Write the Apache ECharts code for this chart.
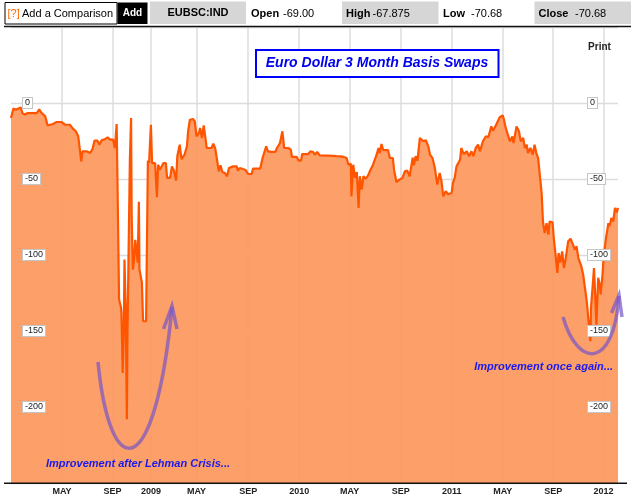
<!DOCTYPE html>
<html><head><meta charset="utf-8">
<script src="https://cdn.jsdelivr.net/npm/echarts@6/dist/echarts.min.js"></script>
<style>html,body{margin:0;padding:0;background:#fff}#c{width:631px;height:501px}</style>
</head><body><div id="c"></div>
<script>
// trading-session index (x) and basis swap level in bp (y)
const sessions = [0,4,8,12,16,19,23,27,34,43,47,51,57,61,65,70,76,84,90,98,103,108,112,115,117,119,126,132,136,139,144,147,151,157,161,165,170,173,176,
179,180,183,184,186,188,189,191,193,194,196,198,200,201,203,205,207,209,211,213,214,216,218,220,225,228,230,233,235,240,243,245,248,254,258,260,265,268,271,275,277,281,284,289,293,295,298,303,306,309,313,315,318,321,326,334,337,340,344,346,349,352,356,360,363,370,376,378,381,390,395,401,403,415,419,425,428,434,440,443,448,452,455,462,466,468,476,479,483,485,495,499,503,506,510,514,528,542,553,559,562,566,567,570,573,576,579,581,584,587,591,595,598,603,606,609,612,614,617,620,628,631,636,638,642,647,652,656,660,664,669,671,674,677,681,687,691,695,698,702,706,710,714,717,720,724,728,734,736,739,742,748,750,754,759,763,767,770,774,778,781,786,791,795,800,803,808,811,814,819,821,824,827,831,835,837,842,846,849,853,856,859,861,865,869,872,875,878,881,884,886,889,892,895,897,902,904,907,910,912,915,918,921,924,928,932,936,939,942,945,947,950,953,956,959,961,963,965,966,969,971,973,975,978,981,982,985,987,991,995,997,1000,1003,1006,1009,1011];
const values = [-9.9,-3.7,-4.4,-3.7,-2.9,-6.6,-7.7,-6.6,-6.6,-6.6,-4.2,-6.6,-8.8,-14.7,-14.3,-13.8,-12.5,-12.5,-14.3,-14.3,-16.9,-18.6,-21.9,-23,-38.4,-31.8,-31.8,-32.9,-30,-24.8,-24.8,-27.4,-24.6,-23.7,-22.6,-24.1,-24.1,-29.6,-13.8,
-98.7,-129.4,-134,-138,-177.6,-147,-103,-134,-208,-151,-94,-37,-9.9,-74.6,-109.6,-103,-90,-90,-105,-65,-109.6,-110.7,-118,-143.6,-143.6,-38,-39.5,-14.3,-39.5,-39.5,-62,-40.6,-43.9,-39.5,-39.5,-49.3,-49.3,-41.7,-44,-51,-35,-27.4,-37,-34,-28.5,-18.6,-11,-10.5,-12,-22,-19.7,-16.4,-23,-14.7,-29.6,-29.6,-26.8,-29.6,-39.5,-45,-41,-45.4,-46,-48.2,-42.8,-41.7,-41.7,-44.5,-42.8,-43.9,-46.7,-46.7,-43.2,-43.2,-36.2,-28.5,-31.8,-32.2,-32.2,-29.6,-26.3,-18.6,-29.6,-29.6,-30.7,-35.5,-35.5,-37.9,-37.9,-33.6,-33.6,-31.8,-32.2,-34,-32.2,-34.4,-34.6,-35,-35.3,-36.2,-40.6,-40,-61.4,-40.6,-49.3,-45.4,-69,-48.2,-57,-48.2,-49.8,-47.5,-44.5,-40.6,-39.5,-34,-29.6,-33,-27,-31,-31,-36.2,-36.2,-43.9,-52,-50.4,-49.3,-45,-44.5,-48.2,-36,-41,-35,-38,-23,-25.2,-24.5,-28.5,-34,-36.2,-42.8,-53.7,-46,-51.5,-61.4,-58,-60,-59,-52.6,-49.3,-41.7,-37.3,-29.6,-33.6,-31.8,-35,-31.8,-35,-29.6,-27.4,-31.8,-25.2,-21.9,-22.5,-15.4,-18.2,-14.3,-14,-9.4,-8.1,-10.9,-16.4,-15.3,-25.2,-22,-26.3,-15.4,-18.6,-25.2,-23,-29.6,-27.4,-32.9,-29.6,-34,-27.4,-32.9,-36.2,-48.2,-60.3,-78,-85.5,-79,-86.6,-78,-78.5,-88.8,-99.8,-111.8,-98.7,-105,-97.6,-108.6,-102,-91,-89.3,-93.2,-96.5,-94.3,-102,-100.9,-107.5,-113,-121.7,-130.5,-139.3,-148,-156.8,-134.9,-119.5,-108.6,-126,-145.8,-115,-120.6,-126,-114,-102,-88.8,-79,-81,-75.7,-78,-69,-72,-69];
const tickSessions = [85,169,233,309,395,480,564,649,734,819,903,987];
const tickLabels = ['MAY','SEP','2009','MAY','SEP','2010','MAY','SEP','2011','MAY','SEP','2012'];

const chart = echarts.init(document.getElementById('c'));
const data = sessions.map((s, i) => [s, values[i]]);
const labelOf = {};
tickSessions.forEach((s, i) => { labelOf[s] = tickLabels[i]; });
const FF = '"Liberation Sans", Arial, Helvetica, sans-serif';
const yLabel = {
  show: true, inside: true, showMinLabel: false, showMaxLabel: false,
  fontSize: 9, color: '#222', fontFamily: FF,
  backgroundColor: '#fff', borderColor: '#c6c6c6', borderWidth: 1, padding: [1, 2, 0, 2]
};
const arrowColor = 'rgba(120,85,200,0.7)';
function txt(x, y, text, opt) {
  return { type: 'text', x: x, y: y, z: 100,
    style: Object.assign({ text: text, fill: '#000', fontSize: 11, fontFamily: FF, verticalAlign: 'middle', align: 'left' }, opt || {}) };
}
const graphic = [
  { type: 'rect', z: 100, shape: { x: 5, y: 2.5, width: 112, height: 21.5 }, style: { fill: '#fff', stroke: '#000', lineWidth: 1 } },
  txt(7.5, 13.5, '[?]', { fill: '#ff6a00' }),
  txt(22, 13.5, 'Add a Comparison'),
  { type: 'rect', z: 100, shape: { x: 117.5, y: 2.5, width: 30, height: 21.5 }, style: { fill: '#000' } },
  txt(132.5, 13.5, 'Add', { fill: '#fff', fontWeight: 'bold', fontSize: 10, align: 'center' }),
  { type: 'rect', z: 100, shape: { x: 150, y: 1.5, width: 96, height: 22.5 }, style: { fill: '#d6d6d6' } },
  txt(198, 13, 'EUBSC:IND', { fontWeight: 'bold', align: 'center' }),
  txt(251, 13.5, 'Open', { fontWeight: 'bold' }),
  txt(283, 13.5, '-69.00'),
  { type: 'rect', z: 100, shape: { x: 342, y: 1.5, width: 96.5, height: 22.5 }, style: { fill: '#d6d6d6' } },
  txt(346, 13.5, 'High', { fontWeight: 'bold' }),
  txt(372.5, 13.5, '-67.875'),
  txt(443, 13.5, 'Low', { fontWeight: 'bold' }),
  txt(471, 13.5, '-70.68'),
  { type: 'rect', z: 100, shape: { x: 534.5, y: 1.5, width: 97, height: 22.5 }, style: { fill: '#d6d6d6' } },
  txt(538.5, 13.5, 'Close', { fontWeight: 'bold' }),
  txt(575, 13.5, '-70.68'),
  { type: 'line', z: 100, shape: { x1: 4, y1: 26.5, x2: 631, y2: 26.5 }, style: { stroke: '#111', lineWidth: 1.5 } },
  { type: 'line', z: 100, shape: { x1: 4, y1: 483.3, x2: 627, y2: 483.3 }, style: { stroke: '#111', lineWidth: 1.5 } },
  txt(599.5, 47, 'Print', { fontWeight: 'bold', fontSize: 10, align: 'center', fill: '#222' }),
  { type: 'rect', z: 100, shape: { x: 256, y: 50, width: 242.5, height: 27 }, style: { fill: '#fff', stroke: '#0000ff', lineWidth: 2 } },
  txt(377, 63.5, 'Euro Dollar 3 Month Basis Swaps', { fontWeight: 'bold', fontStyle: 'italic', fontSize: 14, fill: '#0000ee', align: 'center' }),
  txt(46, 463.5, 'Improvement after Lehman Crisis...', { fontWeight: 'bold', fontStyle: 'italic', fontSize: 11, fill: '#1a1aee' }),
  txt(613, 367, 'Improvement once again...', { fontWeight: 'bold', fontStyle: 'italic', fontSize: 11, fill: '#1a1aee', align: 'right' }),
  { type: 'bezierCurve', z: 90, shape: { x1: 98, y1: 362, cpx1: 110, cpy1: 485, cpx2: 155, cpy2: 485, x2: 172, y2: 307 }, style: { stroke: arrowColor, lineWidth: 3.5, fill: null } },
  { type: 'polyline', z: 90, shape: { points: [[163.5, 329], [172, 306], [177, 329]] }, style: { stroke: arrowColor, lineWidth: 3.5, fill: null } },
  { type: 'bezierCurve', z: 90, shape: { x1: 563, y1: 317, cpx1: 578, cpy1: 369, cpx2: 614, cpy2: 369, x2: 619, y2: 296 }, style: { stroke: arrowColor, lineWidth: 3.5, fill: null } },
  { type: 'polyline', z: 90, shape: { points: [[611.5, 313], [619, 295], [622, 317]] }, style: { stroke: arrowColor, lineWidth: 3.5, fill: null } }
];

const yBase = { type: 'value', min: -250, max: 50, interval: 50, axisLine: { show: false }, axisTick: { show: false } };

chart.setOption({
  animation: false,
  backgroundColor: '#fff',
  grid: { left: 11, right: 13, top: 27, bottom: 18, containLabel: false, outerBoundsMode: 'none' },
  xAxis: {
    type: 'value', min: 0, max: 1011,
    axisLine: { show: false },
    axisTick: { show: false, customValues: tickSessions },
    axisLabel: { customValues: tickSessions, formatter: v => labelOf[v] || '', margin: 4,
      fontSize: 9, fontWeight: 'bold', color: '#222', fontFamily: FF },
    splitLine: { show: true, lineStyle: { color: '#dcdcdc', width: 1.5 } }
  },
  yAxis: [
    Object.assign({}, yBase, { position: 'left', axisLabel: { show: false },
      splitLine: { show: true, lineStyle: { color: '#dcdcdc', width: 1.3 } } }),
    Object.assign({}, yBase, { position: 'left', z: 10, splitLine: { show: false },
      axisLabel: Object.assign({ margin: 12 }, yLabel) }),
    Object.assign({}, yBase, { position: 'right', z: 10, splitLine: { show: false },
      axisLabel: Object.assign({ margin: 30, align: 'left' }, yLabel) })
  ],
  series: [{
    type: 'line', yAxisIndex: 0, data: data, showSymbol: false, symbol: 'none',
    lineStyle: { color: '#ff5500', width: 2.2 },
    areaStyle: { origin: 'start', color: 'rgb(252,152,92)', opacity: 0.93 }
  }],
  graphic: graphic
});
</script>
</body></html>
